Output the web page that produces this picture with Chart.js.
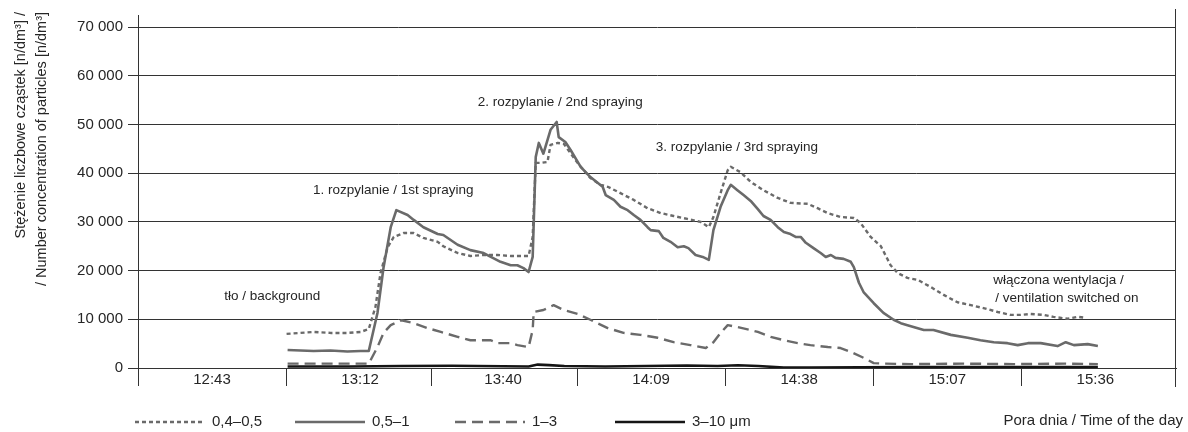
<!DOCTYPE html>
<html>
<head>
<meta charset="utf-8">
<script src="https://cdn.jsdelivr.net/npm/chart.js@4.4.1/dist/chart.umd.min.js"></script>
<style>
html,body{margin:0;padding:0;background:#fff;}
#wrap{width:1188px;height:432px;}
</style>
</head>
<body>
<div id="wrap"><canvas id="c" width="1188" height="432"></canvas></div>
<script>
// ---------- data ----------
const tickLabels = ['12:43', '13:12', '13:40', '14:09', '14:38', '15:07', '15:36'];
const yTickValues = [0, 10000, 20000, 30000, 40000, 50000, 60000, 70000];
const seriesNames = ['0,4–0,5', '0,5–1', '1–3', '3–10 μm'];

// time in minutes after midnight, concentration in n/dm3
const time_04_05 = [777.6,782.9,786.2,789.5,792.1,793.7,795.0,796.0,797.4,798.6,800.5,802.5,804.4,807.2,808.3,811.1,813.6,816.2,818.9,821.5,825.0,825.8,826.4,827.4,828.7,829.3,830.7,831.9,833.2,834.6,837.1,839.1,840.5,843.0,845.6,848.3,850.9,853.4,856.1,858.7,860.3,861.2,862.6,864.0,864.6,866.5,868.5,871.0,873.8,876.3,879.7,881.6,883.6,886.1,888.7,890.0,892.0,894.0,895.9,897.3,899.2,901.2,903.8,906.3,909.0,911.6,914.1,916.9,919.4,921.4,923.3,925.9,927.8,930.6,932.5,934.1];
const conc_04_05 = [7000,7400,7200,7200,7400,8000,12500,19500,24800,26900,27700,27700,26700,25900,25000,23600,23000,23200,23200,23000,23000,26900,42100,42100,42300,45800,46200,46000,44100,42100,39000,37600,37200,35900,34500,32800,31800,31200,30600,30000,28900,31000,35900,40600,41300,40200,38200,36500,34900,33900,33700,32800,31800,31000,30800,29800,26900,25000,21100,19500,18500,18100,16600,15000,13500,12900,12300,11500,10900,10900,11100,10900,10500,10100,10500,10300];

const time_05_1 = [777.8,782.9,786.2,789.5,792.1,793.7,795.4,796.6,798.0,799.1,801.3,802.5,804.4,807.2,808.3,811.1,813.6,816.2,817.6,819.5,821.5,822.8,824.0,825.0,825.8,826.4,827.0,827.9,828.3,829.3,830.5,830.9,832.2,833.2,835.2,837.1,839.5,840.1,841.7,843.0,844.4,845.6,846.9,848.3,848.9,850.5,851.4,852.8,854.2,855.4,856.3,857.7,859.1,860.3,861.2,862.6,864.0,864.6,865.9,867.1,868.5,869.9,871.0,872.4,873.8,875.0,876.3,877.3,878.3,879.3,880.8,882.2,883.2,884.2,885.1,886.7,888.1,888.7,889.7,890.6,892.6,894.5,896.5,897.9,899.2,902.4,904.3,907.7,911.0,913.5,916.1,918.8,920.8,922.8,925.3,928.6,930.2,931.8,934.5,936.5];
const conc_05_1 = [3700,3500,3600,3400,3500,3500,11300,20700,28900,32400,31400,30400,28900,27500,27300,25300,24200,23600,22800,21800,21100,21100,20500,19700,22800,43300,46200,44000,45400,48900,50500,47400,46400,44800,41300,39200,37200,35500,34500,33100,32400,31400,30400,28900,28300,28100,26700,25900,24800,25000,24600,23200,22800,22200,28300,33100,36500,37600,36500,35500,34300,32600,31200,30400,28900,27900,27500,26900,26900,25700,24600,23600,22800,23200,22600,22400,21800,20700,17500,15600,13300,11300,9900,9200,8800,7800,7800,6800,6200,5700,5300,5100,4700,5100,5100,4500,5300,4700,4900,4500];

const time_1_3 = [777.8,793.7,795.4,796.6,798.0,800.1,802.5,805.2,807.8,811.1,813.6,817.6,818.9,821.5,822.8,825.0,825.8,826.0,827.9,829.9,831.9,834.6,837.1,840.5,843.6,846.9,850.3,853.4,856.7,859.7,861.2,862.6,864.0,865.9,868.5,869.9,872.4,875.0,877.7,880.2,883.6,886.1,888.1,890.6,892.6,894.5,900.0,910.0,920.0,930.0,936.5];
const conc_1_3 = [900,900,4300,7200,8800,9800,9200,8200,7400,6400,5700,5700,5100,5100,4700,4300,7800,11500,11900,12900,11900,11100,9900,8200,7200,6800,6200,5300,4700,4100,5300,7200,8800,8400,7800,7400,6400,5700,5100,4700,4300,4100,3300,2100,1000,900,800,900,800,900,800];

const time_3_10 = [777.8,790.0,800.0,810.0,820.0,825.0,826.8,829.0,832.0,840.0,848.0,856.0,862.0,866.0,870.0,875.0,880.0,890.0,900.0,920.0,936.5];
const conc_3_10 = [300,300,400,450,350,300,700,600,400,300,400,500,400,550,400,100,100,150,200,200,200];

// text annotations anchored in data coordinates (time, concentration)
const notes = [
  {text: '1. rozpylanie / 1st spraying', t: 798.5, v: 36500, align: 'center'},
  {text: '2. rozpylanie / 2nd spraying', t: 831.2, v: 54600, align: 'center'},
  {text: '3. rozpylanie / 3rd spraying', t: 865.8, v: 45300, align: 'center'},
  {text: 'tło / background', t: 774.8, v: 14800, align: 'center'},
  {text: 'włączona wentylacja /', t: 916.0, v: 18100, align: 'left'},
  {text: '/ ventilation switched on', t: 916.4, v: 14400, align: 'left'}
];
const yTitle = ['Stężenie liczbowe cząstek [n/dm³] /', '/ Number concentration of particles [n/dm³]'];
const xTitle = 'Pora dnia / Time of the day';

// ---------- helpers ----------
const FONT = "'Liberation Sans', Arial, Helvetica, sans-serif";
const TEXT = '#262626';
const AXIS = '#333333';
const toMin = s => { const p = s.split(':').map(Number); return p[0] * 60 + p[1]; };
const labelMinutes = tickLabels.map(toMin);
const boundaries = labelMinutes.map((m, i) => i === 0 ? m - (labelMinutes[1] - m) / 2 : (labelMinutes[i - 1] + m) / 2);
const X_MIN = boundaries[0];
const X_MAX = 951.8;
const fmt = v => String(v).replace(/\B(?=(\d{3})+(?!\d))/g, ' ');
const mk = (t, v) => t.map((x, i) => ({x: x, y: v[i]}));

const base = {pointRadius: 0, pointHoverRadius: 0, fill: false, tension: 0, borderCapStyle: 'butt', borderJoinStyle: 'round'};
const datasets = [
  {label: seriesNames[0], data: mk(time_04_05, conc_04_05), borderColor: '#6a6a6a', borderWidth: 2.4, borderDash: [4, 3]},
  {label: seriesNames[1], data: mk(time_05_1, conc_05_1), borderColor: '#6a6a6a', borderWidth: 2.6, borderDash: []},
  {label: seriesNames[2], data: mk(time_1_3, conc_1_3), borderColor: '#6a6a6a', borderWidth: 2.4, borderDash: [11, 6]},
  {label: seriesNames[3], data: mk(time_3_10, conc_3_10), borderColor: '#151515', borderWidth: 2.6, borderDash: []}
].map(d => Object.assign({}, base, d));

const decor = {
  id: 'decor',
  afterDraw(chart) {
    const ctx = chart.ctx, a = chart.chartArea, xs = chart.scales.x, ys = chart.scales.y;
    ctx.save();
    // extended frame lines
    ctx.strokeStyle = AXIS; ctx.lineWidth = 1; ctx.setLineDash([]);
    const lx = Math.round(a.left) + 0.5, rx = Math.round(a.right) - 0.5;
    ctx.beginPath();
    ctx.moveTo(lx, a.top - 12); ctx.lineTo(lx, a.top + 1);
    ctx.moveTo(rx, a.top - 18); ctx.lineTo(rx, a.bottom + 19);
    ctx.stroke();

    ctx.fillStyle = TEXT;
    // y title (rotated, end-aligned at the top)
    ctx.font = '14.5px ' + FONT;
    ctx.textAlign = 'right'; ctx.textBaseline = 'alphabetic';
    [[25, yTitle[0]], [46, yTitle[1]]].forEach(([bx, s]) => {
      ctx.save(); ctx.translate(bx, 12); ctx.rotate(-Math.PI / 2); ctx.fillText(s, 0, 0); ctx.restore();
    });

    // annotations
    ctx.font = '13.5px ' + FONT; ctx.textBaseline = 'middle';
    notes.forEach(n => {
      ctx.textAlign = n.align;
      ctx.fillText(n.text, xs.getPixelForValue(n.t), ys.getPixelForValue(n.v));
    });

    // legend
    const ly = 422;
    ctx.font = '15px ' + FONT; ctx.textAlign = 'left'; ctx.textBaseline = 'middle';
    chart.data.datasets.forEach((ds, i) => {
      const sx = a.left - 3 + i * 160;
      ctx.save();
      ctx.strokeStyle = ds.borderColor; ctx.lineWidth = ds.borderWidth; ctx.setLineDash(ds.borderDash || []);
      ctx.beginPath(); ctx.moveTo(sx, ly); ctx.lineTo(sx + 70, ly); ctx.stroke();
      ctx.restore();
      ctx.fillStyle = TEXT;
      ctx.fillText(ds.label, sx + 77, ly);
    });

    // x title
    ctx.textAlign = 'right';
    ctx.fillText(xTitle, 1183, 421);
    ctx.restore();
  }
};

new Chart(document.getElementById('c'), {
  type: 'line',
  data: {datasets: datasets},
  options: {
    responsive: false,
    animation: false,
    devicePixelRatio: 1,
    layout: {padding: {left: 77, top: 27, right: 12, bottom: 0}},
    plugins: {legend: {display: false}, tooltip: {enabled: false}, title: {display: false}},
    scales: {
      x: {
        type: 'linear', position: 'bottom', min: X_MIN, max: X_MAX,
        afterBuildTicks: s => {
          const t = boundaries.map(v => ({value: v, b: true})).concat(labelMinutes.map(v => ({value: v, b: false})));
          t.sort((p, q) => p.value - q.value);
          s.ticks = t;
        },
        afterFit: s => { s.height = 64; },
        grid: {
          drawOnChartArea: false, drawTicks: true, tickLength: 18, lineWidth: 1,
          color: c => (c.tick && c.tick.b) ? AXIS : 'rgba(0,0,0,0)'
        },
        border: {display: true, color: AXIS, width: 1},
        ticks: {
          autoSkip: false, maxRotation: 0, minRotation: 0, padding: -15, color: TEXT,
          font: {family: FONT, size: 15},
          callback: (v, i, ticks) => ticks[i].b ? '' : tickLabels[labelMinutes.indexOf(ticks[i].value)]
        }
      },
      y: {
        type: 'linear', min: 0, max: 70000,
        afterBuildTicks: s => { s.ticks = yTickValues.map(v => ({value: v})); },
        afterFit: s => { s.width = 61; },
        grid: {color: AXIS, lineWidth: 1, tickLength: 10, drawTicks: true},
        border: {display: true, color: AXIS, width: 1},
        ticks: {padding: 5, color: TEXT, font: {family: FONT, size: 15}, callback: v => fmt(v)}
      }
    }
  },
  plugins: [decor]
});
</script>
</body>
</html>
